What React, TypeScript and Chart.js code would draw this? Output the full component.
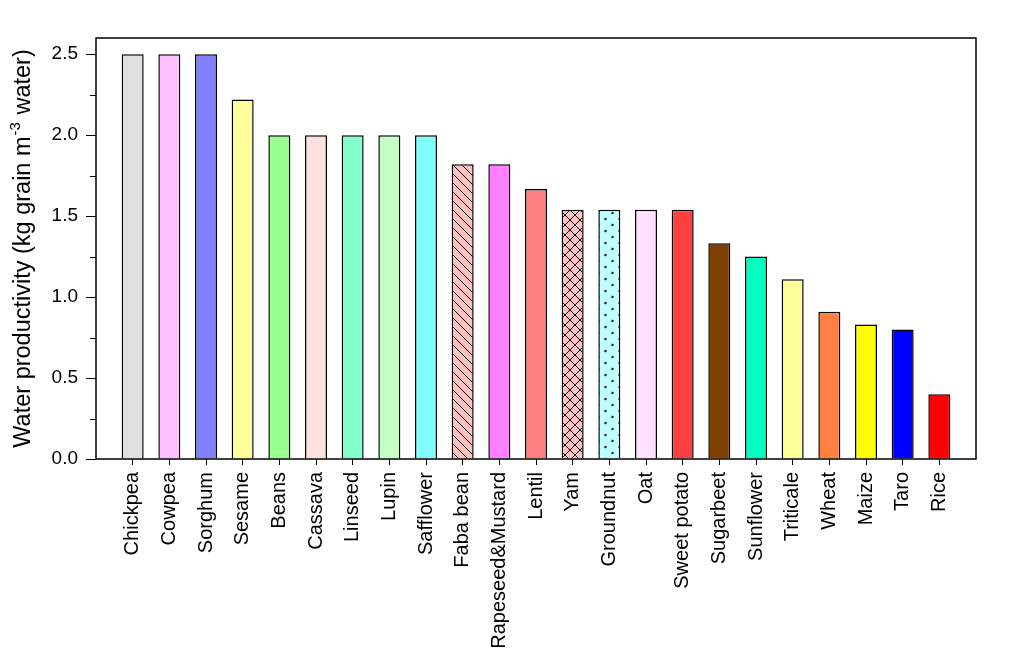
import React, { useEffect, useRef } from "react";
import { Chart, registerables } from "chart.js";

Chart.register(...registerables);

const categories = [
  "Chickpea", "Cowpea", "Sorghum", "Sesame", "Beans", "Cassava", "Linseed", "Lupin",
  "Safflower", "Faba bean", "Rapeseed&Mustard", "Lentil", "Yam", "Groundnut", "Oat",
  "Sweet potato", "Sugarbeet", "Sunflower", "Triticale", "Wheat", "Maize", "Taro", "Rice",
];

const productivity = [
  2.5, 2.5, 2.5, 2.22, 2.0, 2.0, 2.0, 2.0, 2.0, 1.82, 1.82, 1.667, 1.54, 1.54, 1.54,
  1.54, 1.333, 1.25, 1.11, 0.91, 0.83, 0.8, 0.4,
];

const barColors = [
  "#e0e0e0", "#ffc0ff", "#8080ff", "#ffff99", "#99ff90", "#ffe0e0", "#80ffcc", "#c4ffc4",
  "#80ffff", "#ffc0c0", "#ff80ff", "#ff8080", "#ffc0c0", "#c0ffff", "#ffe0ff",
  "#ff4040", "#804000", "#00ffc0", "#ffff99", "#ff8040", "#ffff00", "#0000ff", "#ff0000",
];

// fill patterns: "" none, "diag", "cross", "dots"
const barPatterns = [
  "", "", "", "", "", "", "", "", "", "diag", "", "", "cross", "dots", "",
  "", "", "", "", "", "", "", "",
];

const yMajorTicks = [0, 0.5, 1.0, 1.5, 2.0, 2.5];
const yMinorTicks = [0.25, 0.75, 1.25, 1.75, 2.25];

const FONT = "'Liberation Sans', Arial, sans-serif";

function makePattern(kind: string, base: string): CanvasPattern | string {
  if (!kind) return base;
  const c = document.createElement("canvas");
  const g = c.getContext("2d")!;
  if (kind === "diag") {
    const s = 9;
    c.width = s; c.height = s;
    g.fillStyle = base; g.fillRect(0, 0, s, s);
    g.strokeStyle = "#000"; g.lineWidth = 1;
    g.beginPath();
    g.moveTo(-1, -1); g.lineTo(s + 1, s + 1);
    g.moveTo(-1, s - 1); g.lineTo(1, s + 1);
    g.moveTo(s - 1, -1); g.lineTo(s + 1, 1);
    g.stroke();
  } else if (kind === "cross") {
    const s = 10;
    c.width = s; c.height = s;
    g.fillStyle = base; g.fillRect(0, 0, s, s);
    g.strokeStyle = "#000"; g.lineWidth = 1;
    g.beginPath();
    g.moveTo(-1, -1); g.lineTo(s + 1, s + 1);
    g.moveTo(s + 1, -1); g.lineTo(-1, s + 1);
    g.stroke();
  } else if (kind === "dots") {
    c.width = 14; c.height = 12;
    g.fillStyle = base; g.fillRect(0, 0, 14, 12);
    g.fillStyle = "#333";
    g.beginPath(); g.arc(3.5, 3, 1.3, 0, Math.PI * 2); g.fill();
    g.beginPath(); g.arc(10.5, 9, 1.3, 0, Math.PI * 2); g.fill();
  }
  const p = g.createPattern(c, "repeat");
  return p || base;
}

const framePlugin = {
  id: "frameAndTitle",
  afterDatasetsDraw(chart: any) {
    const { ctx, chartArea: a, scales } = chart;
    ctx.save();
    ctx.strokeStyle = "#000";
    ctx.lineWidth = 1.5;
    ctx.strokeRect(a.left, a.top, a.right - a.left, a.bottom - a.top);
    // minor y ticks
    ctx.lineWidth = 1;
    ctx.beginPath();
    yMinorTicks.forEach((v) => {
      const y = Math.round(scales.y.getPixelForValue(v)) + 0.5;
      ctx.moveTo(a.left - 6, y);
      ctx.lineTo(a.left, y);
    });
    ctx.stroke();
    ctx.restore();
  },
  afterDraw(chart: any) {
    const { ctx, chartArea: a } = chart;
    const part1 = "Water productivity (kg grain m";
    const sup = "-3";
    const part2 = " water)";
    ctx.save();
    ctx.fillStyle = "#000";
    ctx.textBaseline = "middle";
    ctx.textAlign = "left";
    const big = `23.5px ${FONT}`;
    const small = `15px ${FONT}`;
    ctx.font = big;
    const w1 = ctx.measureText(part1).width;
    const w3 = ctx.measureText(part2).width;
    ctx.font = small;
    const w2 = ctx.measureText(sup).width + 2;
    const total = w1 + w2 + w3;
    ctx.translate(24, (a.top + a.bottom) / 2);
    ctx.rotate(-Math.PI / 2);
    let x = -total / 2;
    ctx.font = big;
    ctx.fillText(part1, x, 0);
    x += w1 + 1;
    ctx.font = small;
    ctx.fillText(sup, x, -8);
    x += w2 - 1;
    ctx.font = big;
    ctx.fillText(part2, x, 0);
    ctx.restore();
  },
};

export default function App() {
  const ref = useRef<HTMLCanvasElement | null>(null);
  useEffect(() => {
    if (!ref.current) return;
    const bg = barColors.map((c, i) => makePattern(barPatterns[i], c));
    const chart = new Chart(ref.current, {
      type: "bar",
      data: {
        datasets: [
          {
            data: productivity.map((v, i) => ({ x: i + 1, y: v })),
            backgroundColor: bg as any,
            borderColor: "#000",
            borderWidth: 1.5,
            barPercentage: 0.6,
            categoryPercentage: 1,
          },
        ],
      },
      options: {
        animation: false,
        responsive: true,
        maintainAspectRatio: false,
        layout: { padding: { left: 0, top: 38, right: 40, bottom: 0 } },
        plugins: { legend: { display: false }, tooltip: { enabled: false } },
        scales: {
          x: {
            type: "linear",
            min: 0,
            max: 24,
            offset: false,
            afterBuildTicks: (scale: any) => {
              scale.ticks = categories.map((_, i) => ({ value: i + 1 }));
            },
            afterFit: (scale: any) => {
              scale.height = 669 - 459;
            },
            grid: { display: true, drawOnChartArea: false, offset: false, tickLength: 6, color: "#000", lineWidth: 1 },
            border: { display: false },
            ticks: {
              autoSkip: false,
              maxRotation: 90,
              minRotation: 90,
              padding: 7,
              color: "#000",
              font: { family: FONT, size: 20 },
              callback: (v: any) => categories[Math.round(v) - 1] ?? "",
            },
          },
          y: {
            type: "linear",
            min: 0,
            max: 2.6,
            afterBuildTicks: (scale: any) => {
              scale.ticks = yMajorTicks.map((v) => ({ value: v }));
            },
            afterFit: (scale: any) => {
              scale.width = 96;
            },
            grid: { display: true, drawOnChartArea: false, tickLength: 10, color: "#000", lineWidth: 1 },
            border: { display: false },
            ticks: {
              padding: 8,
              color: "#000",
              font: { family: FONT, size: 19 },
              callback: (v: any) => Number(v).toFixed(1),
            },
          },
        },
      },
      plugins: [framePlugin],
    });
    return () => chart.destroy();
  }, []);
  return (
    <div style={{ position: "fixed", left: 0, top: 0, width: 1016, height: 669, background: "#fff" }}>
      <canvas ref={ref} />
    </div>
  );
}
